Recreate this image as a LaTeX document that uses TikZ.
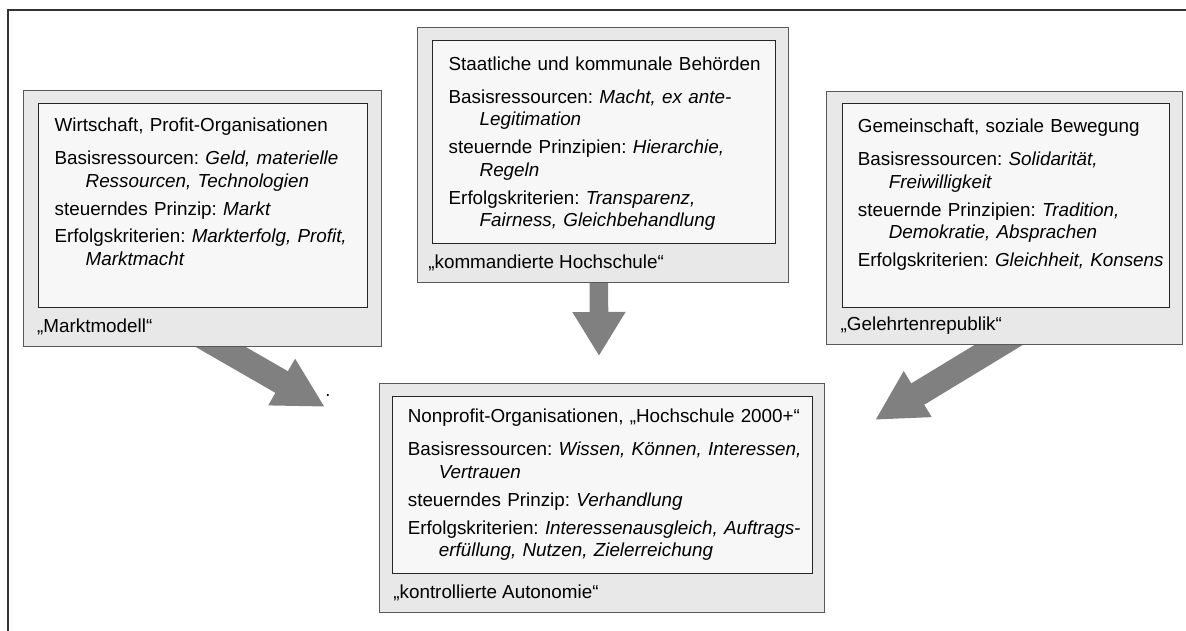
\documentclass[tikz,border=0pt]{standalone}
\usepackage{fontspec}
\setmainfont{Liberation Sans}
\usetikzlibrary{arrows.meta,positioning,calc,backgrounds}
\definecolor{boxgray}{HTML}{E8E8E8}
\definecolor{innergray}{HTML}{F7F7F7}
\definecolor{arrowgray}{HTML}{808080}
\newcommand{\kopf}[1]{#1\par\vspace{3.6pt}}
\newcommand{\zeile}[2]{\par\vspace{3.9pt}\hangindent=0.775cm\hangafter=1 #1: \textit{#2}}

\begin{document}
\begin{tikzpicture}[
    outer/.style={rectangle, draw=black!65, fill=boxgray, line width=0.6pt},
    inner/.style={rectangle, draw=black!85, fill=innergray, line width=0.6pt},
    info/.style={anchor=north west, inner sep=0pt, align=left, font=\fontsize{13.4}{16}\selectfont\frenchspacing},
    caption/.style={anchor=west, inner sep=0pt, font=\fontsize{13.4}{16}\selectfont},
    fat/.style={draw=arrowgray, line width=0.625cm, -{Triangle[length=1.25cm, width=1.25cm]}}
]
\useasboundingbox (0,0) rectangle (29.65,15.775);
\draw[line width=0.05cm, black!80] (0.2125,0) -- (0.2125,15.5125) -- (29.7,15.5125);

% Marktmodell
\node[outer, minimum width=8.95cm, minimum height=6.4cm] (markt) at (5.05,10.325) {};
\node[inner, minimum width=8.225cm, minimum height=5.1cm] (marktIn) at (5.0625,10.65) {};
\node[info, text width=7.7cm] (marktText) at ([xshift=0.42cm, yshift=-0.375cm]marktIn.north west) {%
  \kopf{Wirtschaft, Profit-Organisationen}
  \zeile{Basisressourcen}{Geld, materielle\newline Ressourcen, Technologien}
  \zeile{steuerndes Prinzip}{Markt}
  \zeile{Erfolgskriterien}{Markterfolg, Profit,\newline Marktmacht}\par};
\node[caption] (marktCap) at ($(markt.south west)!0.5!(marktIn.south west)+(0.17,0)$) {„Marktmodell“};

% kommandierte Hochschule
\node[outer, minimum width=9.275cm, minimum height=6.375cm] (staat) at (15.0625,11.9125) {};
\node[inner, minimum width=8.575cm, minimum height=5.075cm] (staatIn) at (15.0875,12.2375) {};
\node[info, text width=8.1cm] (staatText) at ([xshift=0.42cm, yshift=-0.42cm]staatIn.north west) {%
  \kopf{Staatliche und kommunale Behörden}
  \zeile{Basisressourcen}{Macht, ex ante-\newline Legitimation}
  \zeile{steuernde Prinzipien}{Hierarchie,\newline Regeln}
  \zeile{Erfolgskriterien}{Transparenz,\newline Fairness, Gleichbehandlung}\par};
\node[caption] (staatCap) at ($(staat.south west)!0.5!(staatIn.south west)+(0.1,0)$) {„kommandierte Hochschule“};

% Gelehrtenrepublik
\node[outer, minimum width=8.9cm, minimum height=6.325cm] (gemein) at (25.1,10.3375) {};
\node[inner, minimum width=8.175cm, minimum height=5.1cm] (gemeinIn) at (25.1375,10.65) {};
\node[info, text width=7.7cm] (gemeinText) at ([xshift=0.4cm, yshift=-0.4cm]gemeinIn.north west) {%
  \kopf{Gemeinschaft, soziale Bewegung}
  \zeile{Basisressourcen}{Solidarität,\newline Freiwilligkeit}
  \zeile{steuernde Prinzipien}{Tradition,\newline Demokratie, Absprachen}
  \zeile{Erfolgskriterien}{Gleichheit, Konsens}\par};
\node[caption] (gemeinCap) at ($(gemein.south west)!0.5!(gemeinIn.south west)+(0.17,0)$) {„Gelehrtenrepublik“};

% Hochschule 2000+
\node[outer, minimum width=11.125cm, minimum height=5.725cm] (nonprofit) at (15.0375,3.3375) {};
\node[inner, minimum width=10.5cm, minimum height=4.425cm] (nonprofitIn) at (15.05,3.6625) {};
\node[info, text width=10cm] (nonprofitText) at ([xshift=0.4cm, yshift=-0.33cm]nonprofitIn.north west) {%
  \kopf{Nonprofit-Organisationen, „Hochschule 2000+“}
  \zeile{Basisressourcen}{Wissen, Können, Interessen,\newline Vertrauen}
  \zeile{steuerndes Prinzip}{Verhandlung}
  \zeile{Erfolgskriterien}{Interessenausgleich, Auftrags-\newline erfüllung, Nutzen, Zielerreichung}\par};
\node[caption] (nonprofitCap) at ($(nonprofit.south west)!0.5!(nonprofitIn.south west)+(0.2,0)$) {„kontrollierte Autonomie“};

\coordinate (tipM) at (8.125,5.6);
\coordinate (tipS) at (14.975,6.875);
\coordinate (tipG) at (21.875,5.275);
\node[anchor=base, inner sep=0pt, font=\fontsize{13}{16}\selectfont] (punkt) at (8.2,5.87) {.};

\begin{scope}[on background layer]
\draw[fat] ($(markt.south)+(-0.25,0.4)$) -- (tipM);
\draw[fat, line width=0.465cm, -{Triangle[length=1.1cm, width=1.25cm]}] ($(staat.south)+(-0.09,0.2)$) -- (tipS);
\draw[fat] ($(gemein.south)+(0.49,0.365)$) -- (tipG);
\end{scope}
\end{tikzpicture}
\end{document}
